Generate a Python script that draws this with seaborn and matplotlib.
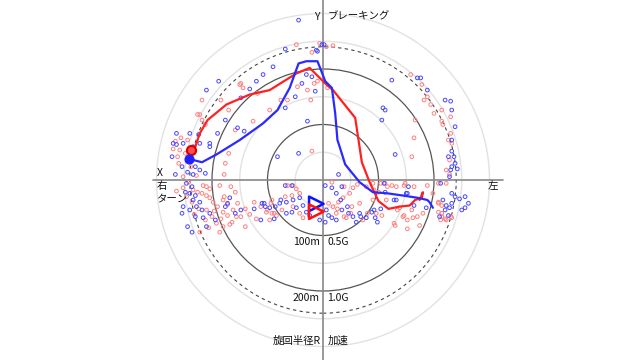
import numpy as np
import pandas as pd
import seaborn as sns
import matplotlib
matplotlib.use("Agg")
import matplotlib.pyplot as plt
from matplotlib.patches import Circle

# ---------------- data (G units: x = lateral, y = longitudinal) ----------------
red_x = [-0.10, 0.03, 0.09, -0.24, -0.03, -0.75, -0.72, -0.14, -0.05, -0.63, -0.48, -0.79,
         -1.11, -1.09, -0.92, -0.85, -0.74, -0.59, -0.38, -0.32, -0.23, -0.08, -0.11, 0.04,
         -0.10, -0.88, -0.85, -0.89, -1.09,
         0.79, 0.89, 0.91, 0.94, 0.97, 1.00, 1.07, 1.08, 1.15, 1.13, 1.16, 1.15, 1.07, 0.82,
         0.83, 0.80, 1.14, 1.11, 1.14,
         -1.13, -1.06, -1.29, -1.24, -1.31, -1.26, -1.26, -1.17, -1.13, -1.09, -1.05, -1.02,
         -0.99, -0.95, -0.90, -0.86, -0.81, -0.78, -1.05, -1.00, -0.96, -0.90, -1.06, -1.11,
         -0.93, -0.90, -0.93, -0.79, -1.23, -1.35, -1.33, -1.28, -1.22, -1.30, -1.19, -1.14,
         -1.21, -1.32, -1.18, -1.12, -1.16, -1.03, -0.98, -0.92, -0.86, -0.84, -1.08, -1.02,
         -0.89, -0.77, -0.70, -0.62, -0.56, -0.50, -0.47, -0.44, -0.74, -0.70, -0.82, -1.05,
         -0.83, -0.66, -0.60,
         -0.32, -0.27, -0.24, -0.21, -0.28, -0.34, -0.46, -0.51, -0.46, -0.42, -0.48, -0.37,
         -0.27, -0.21, -0.18, 0.08, 0.14, 0.18, 0.24, 0.27, 0.39, 0.45, 0.50, 0.45, 0.33,
         0.26, 0.09, 0.05, 0.12, 0.21, 0.36, 0.48,
         0.19, 0.31, 0.46, 0.52, 0.58, 0.73, 0.82, 0.94, 0.67, 0.73, 0.76, 0.76, 0.64, 0.85,
         0.40, 0.25, 0.13, 0.19,
         0.56, 0.62, 0.66, 0.74, 1.04, 1.11, 0.99, 1.04, 1.07, 1.04, 1.11, 1.16, 1.07, 0.90,
         0.81, 0.72, 0.69, 0.80, 0.65, 0.87, 0.53, 0.57, 1.04, 1.07, 1.10, 1.15, 1.06]
red_y = [1.15, 1.20, 1.21, 1.22, 1.23, 0.86, 0.83, 0.81, 0.89, 0.53, 0.63, 0.45,
         0.59, 0.54, 0.72, 0.63, 0.87, 0.78, 0.72, 0.72, 0.84, 0.87, 0.72, 0.83,
         0.26, 0.15, 0.24, 0.05, 0.72,
         0.95, 0.86, 0.72, 0.75, 0.68, 0.60, 0.53, 0.50, 0.42, 0.36, 0.33, 0.57, 0.63, 0.38,
         0.54, 0.21, 0.18, 0.09, 0.05,
         0.59, 0.50, 0.27, 0.24, 0.21, 0.03, -0.07, -0.09, -0.11, -0.12, -0.14, -0.16,
         -0.20, -0.24, -0.29, -0.32, -0.27, -0.33, -0.27, -0.33, -0.39, -0.42, -0.36, -0.47,
         -0.47, -0.18, -0.05, -0.11, -0.15, 0.28, 0.35, 0.38, 0.36, 0.15, 0.12, 0.04,
         -0.02, -0.10, -0.20, -0.26, -0.31, -0.43, -0.28, -0.35, -0.22, -0.40, -0.05, -0.08,
         -0.15, -0.21, -0.26, -0.20, -0.24, -0.27, -0.21, -0.30, -0.33, -0.42, -0.38, -0.06,
         -0.06, -0.31, -0.35,
         -0.05, -0.05, -0.08, -0.12, -0.14, -0.15, -0.18, -0.29, -0.30, -0.32, -0.36, -0.27,
         -0.24, -0.30, -0.34, -0.02, -0.20, -0.16, -0.12, -0.07, -0.06, -0.03, -0.11, -0.18,
         -0.21, -0.24, -0.24, -0.21, -0.30, -0.34, -0.36, -0.30,
         -0.06, -0.04, -0.09, -0.03, -0.06, -0.05, -0.06, -0.05, -0.27, -0.32, -0.36, -0.44,
         -0.39, -0.33, -0.30, -0.30, -0.26, -0.33,
         -0.03, -0.05, -0.06, -0.03, -0.03, -0.03, -0.12, -0.20, -0.23, -0.29, -0.36, -0.34,
         -0.33, -0.30, -0.34, -0.33, -0.25, -0.27, -0.41, -0.41, -0.32, -0.18, -0.21, -0.30,
         -0.35, -0.33, -0.36]

blue_x = [-0.22, -0.34, -0.01, 0.01, -0.05, -0.45, -0.54, -0.60, -0.66, -0.15, -0.10, -0.19,
          -0.25, -0.34, -0.07, -0.06, -0.14, 0.54, 0.56, 0.53, -0.22, -0.41, -0.74, -0.77,
          -0.95, -1.02, -0.88, -1.05, -0.94, -0.71,
          -1.33, -1.36, -1.32, -1.26, -1.17, -1.12, -1.20, -1.06, -1.11, -1.32, -1.35, -1.11,
          -1.02, -1.27, -1.15, -1.22, -1.17, -1.23, -1.18, -1.24, -1.20, -1.15, -1.17, -1.11,
          -1.14, -1.09, -1.20, -1.26, -1.27, -1.15, -1.08, -1.02, -0.97, -1.22, -1.18, -1.05,
          -0.88, -0.84,
          -0.86, -0.79, -0.74, -0.62, -0.53, -0.56, -0.44, -0.38, -0.28, -0.34, 0.02, 0.08,
          0.17, 0.12, -0.55, -0.52, -0.48, -0.43, -0.39, -0.33, -0.27, -0.21, -0.18, -0.24,
          -0.28, -0.33, -0.15, -0.12, 0.03, 0.05, 0.08, 0.12, 0.17, 0.23, 0.27, 0.33, 0.30,
          0.39, 0.47, -0.03, 0.02, 0.44,
          0.16, 0.22, 0.34, 0.49, 0.52, 0.64, 0.76, 0.82, 0.46, 0.55, 0.14,
          0.65, 1.16, 1.14, 1.16, 1.19, 1.23, 1.28, 1.31, 1.28, 1.25, 1.14, 1.11, 1.10, 1.13,
          1.16, 1.05, 1.08, 0.93, 0.77, 0.75, 0.56, 0.66,
          0.62, 0.85, 0.88, 0.94, 1.10, 1.15, 1.16, 1.19, 1.16, 1.16, 1.13, 1.18, 1.19, 1.15,
          1.21, 1.06]
blue_y = [1.44, 1.18, 1.22, 1.22, 1.16, 1.02, 0.95, 0.89, 0.82, 0.95, 0.93, 0.87,
          0.75, 0.65, 0.80, 1.17, 0.53, 0.65, 0.63, 0.54, 0.24, 0.21, 0.74, 0.47,
          0.42, 0.33, 0.54, 0.81, 0.89, 0.44,
          0.05, 0.21, 0.32, 0.33, 0.30, 0.41, 0.42, 0.06, 0.09, 0.42, 0.33, 0.33,
          0.30, 0.12, 0.12, 0.07, 0.05, -0.03, -0.06, -0.11, -0.12, -0.14, -0.18, -0.20,
          -0.24, -0.27, -0.27, -0.24, -0.30, -0.33, -0.34, -0.30, -0.36, -0.42, -0.47, -0.42,
          -0.24, -0.16,
          -0.21, -0.30, -0.27, -0.26, -0.21, -0.36, -0.35, -0.18, -0.05, -0.05, -0.05, -0.07,
          -0.06, -0.12, -0.21, -0.24, -0.25, -0.24, -0.21, -0.20, -0.18, -0.16, -0.23, -0.25,
          -0.29, -0.30, -0.29, -0.32, -0.27, -0.32, -0.34, -0.36, -0.27, -0.30, -0.33, -0.30,
          -0.38, -0.34, -0.34, -0.36, -0.38, -0.29,
          -0.18, -0.24, -0.33, -0.38, -0.26, -0.18, -0.12, -0.23, -0.27, -0.03, 0.05,
          0.23, 0.12, 0.03, -0.12, -0.15, -0.17, -0.15, -0.21, -0.25, -0.27, -0.25, -0.23,
          -0.27, -0.32, -0.21, -0.33, -0.18, -0.25, -0.06, -0.12, -0.11, -0.18,
          0.90, 0.92, 0.92, 0.81, 0.72, 0.71, 0.63, 0.48, 0.36, 0.26, 0.21, 0.21, 0.15, 0.09,
          0.10, -0.03]

red_line_x = [-1.20, -1.15, -1.11, -1.04, -0.87, -0.66, -0.48, -0.24, -0.12, 0.02, 0.09,
              0.29, 0.32, 0.35, 0.42, 0.50, 0.59, 0.69, 0.78, 0.83, 0.89, 0.90, 0.87]
red_line_y = [0.27, 0.30, 0.42, 0.54, 0.68, 0.77, 0.81, 0.96, 1.01, 0.87, 0.81,
              0.56, 0.36, 0.16, -0.02, -0.19, -0.26, -0.24, -0.23, -0.18, -0.16, -0.11, -0.18]

blue_line_x = [-1.21, -1.09, -0.96, -0.75, -0.54, -0.41, -0.30, -0.22, -0.15, -0.05, -0.03,
               0.02, 0.08, 0.11, 0.13, 0.15, 0.20, 0.33, 0.45, 0.58, 0.72, 0.85, 0.94, 0.96, 0.99]
blue_line_y = [0.19, 0.16, 0.23, 0.36, 0.51, 0.63, 0.83, 1.05, 1.07, 1.07, 1.02,
               0.89, 0.83, 0.60, 0.36, 0.30, 0.14, -0.02, -0.11, -0.12, -0.14, -0.16, -0.18, -0.20, -0.25]

# current / reference markers
red_pos = (-1.19, 0.27)
blue_pos = (-1.21, 0.19)
red_tri = (-0.06, -0.285)
blue_tri = (-0.06, -0.215)

ring_radii_dark = [0.5, 1.0]
ring_radii_light = [0.25, 0.75, 1.25, 1.5]
ring_dashed = 1.2

# ---------------- figure ----------------
sns.set_theme(style="white")
plt.rcParams['font.family'] = ['Noto Sans CJK JP', 'DejaVu Sans']

fig = plt.figure(figsize=(6.4, 3.6), dpi=100)
ax = fig.add_axes([0, 0, 1, 1])
ax.set_xlim(-323 / 111, (640 - 323) / 111)
ax.set_ylim(-180 / 111, 180 / 111)
ax.set_aspect('equal')
ax.axis('off')

for r in ring_radii_light:
    ax.add_patch(Circle((0, 0), r, fill=False, ec='#e2e2e2', lw=1.0, zorder=1))
for r in ring_radii_dark:
    ax.add_patch(Circle((0, 0), r, fill=False, ec='#555555', lw=0.9, zorder=1))
ax.add_patch(Circle((0, 0), ring_dashed, fill=False, ec='#444444', lw=0.8,
                    ls=(0, (3, 3)), zorder=1))

ax.plot([-1.53, 1.62], [0, 0], color='#888888', lw=1.2, zorder=2)
ax.axvline(0, color='#888888', lw=1.2, zorder=2)

sns.scatterplot(x=red_x, y=red_y, ax=ax, marker='o', s=7, color='none',
                edgecolor='#ff8080', linewidth=0.7, zorder=3)
sns.scatterplot(x=blue_x, y=blue_y, ax=ax, marker='o', s=7, color='none',
                edgecolor='#4848ff', linewidth=0.7, zorder=3)

sns.lineplot(x=red_line_x, y=red_line_y, ax=ax, sort=False, estimator=None,
             color='#ff2020', lw=1.6, zorder=4)
sns.lineplot(x=blue_line_x, y=blue_line_y, ax=ax, sort=False, estimator=None,
             color='#2a2aff', lw=1.6, zorder=4)

sns.scatterplot(x=[red_pos[0]], y=[red_pos[1]], ax=ax, marker='o', s=42,
                color='#ff5050', edgecolor='#e00000', linewidth=1.6, zorder=5)
sns.scatterplot(x=[blue_pos[0]], y=[blue_pos[1]], ax=ax, marker='o', s=40,
                color='#2020ff', edgecolor='#2020ff', linewidth=1.0, zorder=5)
sns.scatterplot(x=[blue_tri[0]], y=[blue_tri[1]], ax=ax, marker='>', s=110,
                color='none', edgecolor='#1010ff', linewidth=1.8, zorder=6)
sns.scatterplot(x=[red_tri[0]], y=[red_tri[1]], ax=ax, marker='>', s=110,
                color='none', edgecolor='#ff1010', linewidth=1.8, zorder=6)

fs = 7.5
tc = '#111111'
ax.text(-0.03, 1.47, 'Y', ha='right', va='center', fontsize=fs, color=tc)
ax.text(0.04, 1.47, 'ブレーキング', ha='left', va='center', fontsize=fs, color=tc)
ax.text(-1.50, 0.06, 'X', ha='left', va='center', fontsize=fs, color=tc)
ax.text(-1.50, -0.05, '右', ha='left', va='center', fontsize=fs, color=tc)
ax.text(-1.50, -0.17, 'ターン', ha='left', va='center', fontsize=fs, color=tc)
ax.text(1.48, -0.05, '左', ha='left', va='center', fontsize=fs, color=tc)
ax.text(-0.03, -0.555, '100m', ha='right', va='center', fontsize=fs, color=tc)
ax.text(0.04, -0.555, '0.5G', ha='left', va='center', fontsize=fs, color=tc)
ax.text(-0.03, -1.065, '200m', ha='right', va='center', fontsize=fs, color=tc)
ax.text(0.04, -1.065, '1.0G', ha='left', va='center', fontsize=fs, color=tc)
ax.text(-0.02, -1.45, '旋回半径R', ha='right', va='center', fontsize=fs, color=tc)
ax.text(0.04, -1.45, '加速', ha='left', va='center', fontsize=fs, color=tc)

fig.savefig('out.png', dpi=100, facecolor='white')
